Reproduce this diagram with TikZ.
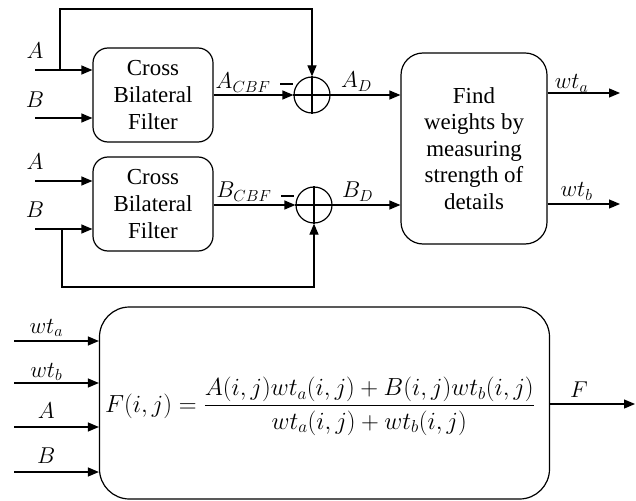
\documentclass[tikz,border=0pt]{standalone}
\usepackage{fix-cm}
\usepackage{amsmath}
\usepackage{fontspec}
\setmainfont{Liberation Serif}
\usetikzlibrary{arrows.meta,positioning}

\begin{document}
\begin{tikzpicture}[x=1bp,y=-1bp,line width=1.2bp]
	\tikzstyle{filter} = [rectangle, rounded corners=15bp, minimum width=120bp, 
	minimum height=94bp, align=center, draw=black, font=\fontsize{23}{27.5}\selectfont]
	\tikzstyle{process} = [rectangle, rounded corners=22bp, minimum width=146bp, 
	minimum height=191bp, align=center, draw=black, font=\fontsize{23}{26.5}\selectfont]
	\tikzstyle{fusion} = [rectangle, rounded corners=30bp, minimum width=450bp, 
	minimum height=192bp, draw=black]
	\tikzstyle{adder} = [circle, minimum size=36bp, inner sep=0pt, draw=black]
	\tikzstyle{arrow} = [-{Triangle[length=11bp,width=9bp]}]
	\tikzstyle{lab} = [anchor=base, inner sep=0pt, font=\fontsize{23}{27}\selectfont]
	\useasboundingbox (0,0) rectangle (636,501);
	\node (filterA) [filter] at (153,95) {Cross\\Bilateral\\Filter};
	\node (filterB) [filter] at (153,204) {Cross\\Bilateral\\Filter};
	\node (sumA) [adder] at (312,95) {};
	\node (sumB) [adder] at (314,205) {};
	\node (weights) [process] at (474,148.5) {Find\\weights by\\measuring\\strength of\\details};
	\node (fuse) [fusion] at (324.5,403) {};
	\node (formula) at (320,406) {\fontsize{24.8}{28}\selectfont
		$F(i,j)=\dfrac{A(i,j)wt_a(i,j)+B(i,j)wt_b(i,j)}{wt_a(i,j)+wt_b(i,j)}$};
	\coordinate (inA1) at (35,70);
	\coordinate (inB1) at (35,118);
	\coordinate (inA2) at (35,181);
	\coordinate (inB2) at (35,229);
	\coordinate (tapA) at (60,70);
	\coordinate (tapB) at (62,229);
	\coordinate (loopA) at (312,9);
	\coordinate (loopB) at (314,287);
	\coordinate (outA) at (620,93);
	\coordinate (outB) at (620,204);
	\coordinate (inW1) at (14,341);
	\coordinate (inW2) at (14,383);
	\coordinate (inW3) at (14,427);
	\coordinate (inW4) at (14,472);
	\coordinate (outF) at (635,404);
	\draw (sumA.north) -- (sumA.south) (sumA.west) -- (sumA.east);
	\draw (sumB.north) -- (sumB.south) (sumB.west) -- (sumB.east);
	\draw [line width=2.4bp] (280,84) -- (293,84);
	\draw [line width=2.4bp] (281,196) -- (294,196);
	\draw [arrow] (inA1) -- node[lab, pos=0, yshift=11bp] {$A$} (inA1 -| filterA.west);
	\draw [arrow] (inB1) -- node[lab, pos=0, yshift=10bp] {$B$} (inB1 -| filterA.west);
	\draw [arrow] (inA2) -- node[lab, pos=0, yshift=11bp] {$A$} (inA2 -| filterB.west);
	\draw [arrow] (inB2) -- node[lab, pos=0, yshift=11bp] {$B$} (inB2 -| filterB.west);
	\draw [arrow] (tapA) |- (loopA) -- (sumA.north);
	\draw [arrow] (tapB) |- (loopB) -- (sumB.south);
	\draw [arrow] (filterA.east) -- node[lab, pos=0.37, yshift=6bp] {$A_{CBF}$} (sumA.west);
	\draw [arrow] (filterB.east |- sumB) -- node[lab, pos=0.37, yshift=7bp] {$B_{CBF}$} (sumB.west);
	\draw [arrow] (sumA.east) -- node[lab, pos=0.37, yshift=7bp] {$A_D$} (sumA.east -| weights.west);
	\draw [arrow] (sumB.east) -- node[lab, pos=0.37, yshift=7bp] {$B_D$} (sumB.east -| weights.west);
	\draw [arrow] (weights.east |- outA) -- node[lab, pos=0.33, yshift=4bp] {$wt_a$} (outA);
	\draw [arrow] (weights.east |- outB) -- node[lab, pos=0.4, yshift=7bp] {$wt_b$} (outB);
	\draw [arrow] (inW1) -- node[lab, pos=0.38, yshift=8bp] {$wt_a$} (inW1 -| fuse.west);
	\draw [arrow] (inW2) -- node[lab, pos=0.38, yshift=6bp] {$wt_b$} (inW2 -| fuse.west);
	\draw [arrow] (inW3) -- node[lab, pos=0.38, yshift=9bp] {$A$} (inW3 -| fuse.west);
	\draw [arrow] (inW4) -- node[lab, pos=0.38, yshift=9bp] {$B$} (inW4 -| fuse.west);
	\draw [arrow] (fuse.east |- outF) -- node[lab, pos=0.34, yshift=7bp] {$F$} (outF);
\end{tikzpicture}
\end{document}
